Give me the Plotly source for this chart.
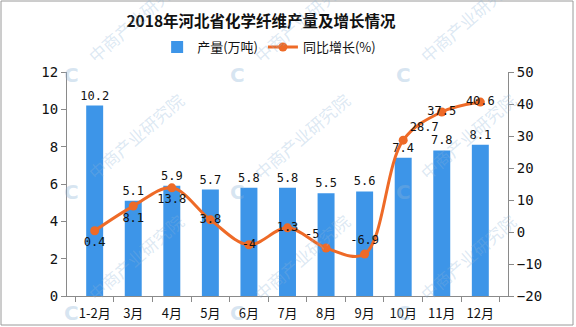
import plotly.graph_objects as go

# Monthly output of chemical fibre in Hebei, 2018
months = ["1-2月", "3月", "4月", "5月", "6月", "7月", "8月", "9月", "10月", "11月", "12月"]
output = [10.2, 5.1, 5.9, 5.7, 5.8, 5.8, 5.5, 5.6, 7.4, 7.8, 8.1]
growth = [0.4, 8.1, 13.8, 3.8, -4, 1.3, -5, -6.9, 28.7, 37.5, 40.6]
growth_label_pos = ["bottom center", "bottom center", "bottom center", "middle center",
                    "middle center", "middle center", "top left", "top center",
                    "top right", "middle center", "middle center"]

BAR = "#3D95E8"
LINE = "#EE6A27"
AXIS = "#8A8A8A"
CJK = "Noto Sans CJK SC"
NUM = "DejaVu Sans Mono"

fig = go.Figure()
fig.add_trace(go.Bar(
    x=months, y=output, name="产量(万吨)",
    marker=dict(color=BAR, line=dict(width=0)),
    text=[f"{v:g}" for v in output], textposition="outside",
    constraintext="none",
    textfont=dict(family=NUM, size=12, color="#111"),
    cliponaxis=False,
))
fig.add_trace(go.Scatter(
    x=months, y=growth, name="同比增长(%)", yaxis="y2",
    mode="lines+markers+text",
    line=dict(color=LINE, width=3, shape="spline", smoothing=1),
    marker=dict(color=LINE, size=9),
    text=[f"{v:g}" for v in growth], textposition=growth_label_pos,
    textfont=dict(family=NUM, size=12, color="#111"),
    cliponaxis=False,
))

# Diagonal "中商产业研究院" watermark tiles (logo at lower-left, text rising to the right)
def px_x(p):
    return (p - 67) / 441

def px_y(p):
    return (296 - p) / 224

annotations = []
for lx in [67, 233, 399]:
    for ly in [75, 192, 313]:
        annotations.append(dict(
            xref="paper", yref="paper", xanchor="center", yanchor="middle",
            x=px_x(lx + 68), y=px_y(ly - 56),
            text="中商产业研究院", showarrow=False, textangle=-41,
            font=dict(family=CJK, size=17, color="rgba(140,180,215,0.30)"),
        ))
        annotations.append(dict(
            xref="paper", yref="paper", xanchor="center", yanchor="middle",
            x=px_x(lx + 4), y=px_y(ly),
            text="<b>C</b>", showarrow=False,
            font=dict(family="DejaVu Sans", size=20, color="rgba(140,180,215,0.35)"),
        ))

fig.update_layout(
    width=576, height=327,
    margin=dict(l=67, r=68, t=72, b=31, autoexpand=False),
    paper_bgcolor="white", plot_bgcolor="white",
    bargap=0.56,
    title=dict(text="<b>2018年河北省化学纤维产量及增长情况</b>",
               x=261 / 576, xanchor="center", y=1 - 22 / 327, yanchor="middle",
               font=dict(family=CJK, size=15.5, color="#111")),
    legend=dict(orientation="h", x=264 / 576, xanchor="center",
                y=1 - 47 / 327, yref="container", yanchor="middle",
                font=dict(family=CJK, size=13, color="#111"),
                itemwidth=30, bgcolor="rgba(0,0,0,0)"),
    xaxis=dict(type="category", showline=True, linecolor=AXIS, linewidth=1,
               ticks="outside", tickson="boundaries", ticklen=5, tickcolor=AXIS,
               tickangle=0, showgrid=False, ticklabelstandoff=5, automargin=False,
               tickfont=dict(family=CJK, size=13, color="#111")),
    yaxis=dict(range=[0, 12], dtick=2, showline=True, linecolor=AXIS, linewidth=1,
               ticks="outside", ticklen=5, tickcolor=AXIS, showgrid=False,
               zeroline=False, automargin=False,
               tickfont=dict(family=NUM, size=14, color="#111")),
    yaxis2=dict(range=[-20, 50], dtick=10, overlaying="y", side="right",
                showline=True, linecolor=AXIS, linewidth=1,
                ticks="outside", ticklen=5, tickcolor=AXIS, showgrid=False,
                zeroline=False, automargin=False,
                tickfont=dict(family=NUM, size=14, color="#111")),
    annotations=annotations,
    shapes=[dict(type="rect", xref="paper", yref="paper",
                 x0=px_x(1), x1=px_x(573), y0=px_y(325), y1=px_y(1),
                 line=dict(color="#9A9A9A", width=1), fillcolor="rgba(0,0,0,0)")],
    showlegend=True,
)

fig.write_html("out.html")
